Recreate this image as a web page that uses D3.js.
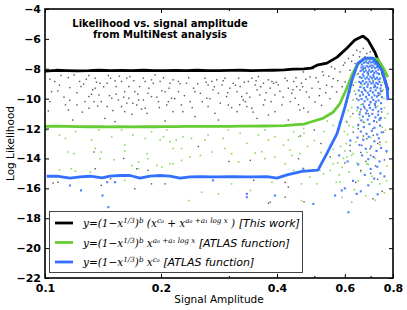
<!DOCTYPE html>
<html>
<head>
<meta charset="utf-8">
<script src="https://cdn.jsdelivr.net/npm/d3@7/dist/d3.min.js"></script>
<style>
  body { margin: 0; background: #fff; }
  svg { display: block; }
</style>
</head>
<body>
<script>
// x ticks and labels (log axis)
var xMajor = [0.1, 0.2, 0.4, 0.6, 0.8];
var xMinor = [0.3, 0.5, 0.7];
var yTicks = [-22, -20, -18, -16, -14, -12, -10, -8, -6, -4];

// profile likelihood lines
var blackX = [0.100,0.107,0.114,0.121,0.130,0.138,0.148,0.158,0.168,0.180,0.192,0.204,0.218,0.233,0.248,0.265,0.283,0.302,0.322,0.344,0.367,0.391,0.418,0.440,0.470,0.490,0.508,0.539,0.573,0.607,0.637,0.669,0.689,0.718,0.749,0.776];
var blackY = [-8.16,-8.10,-8.12,-8.14,-8.13,-8.10,-8.12,-8.11,-8.13,-8.10,-8.12,-8.13,-8.11,-8.12,-8.10,-8.12,-8.13,-8.11,-8.10,-8.12,-8.11,-8.10,-8.08,-8.03,-8.00,-7.96,-7.76,-7.62,-7.22,-6.62,-6.08,-5.81,-6.08,-6.89,-8.09,-9.44];

var greenX = [0.100,0.107,0.114,0.121,0.130,0.138,0.148,0.158,0.168,0.180,0.192,0.204,0.218,0.233,0.248,0.265,0.283,0.302,0.322,0.344,0.367,0.391,0.418,0.440,0.470,0.487,0.526,0.559,0.583,0.607,0.626,0.645,0.669,0.697,0.731,0.753,0.776];
var greenY = [-11.85,-11.84,-11.86,-11.87,-11.88,-11.88,-11.89,-11.88,-11.89,-11.88,-11.88,-11.87,-11.87,-11.86,-11.86,-11.85,-11.86,-11.85,-11.84,-11.84,-11.83,-11.82,-11.80,-11.76,-11.70,-11.58,-11.32,-10.91,-10.31,-9.30,-8.43,-7.76,-7.36,-7.29,-7.36,-7.89,-8.56];

var blueX = [0.101,0.1074,0.1161,0.1233,0.1309,0.1406,0.1475,0.1565,0.1662,0.1764,0.1873,0.1988,0.2110,0.2240,0.2378,0.2525,0.2729,0.3075,0.3404,0.3767,0.4000,0.4246,0.4644,0.5110,0.539,0.573,0.600,0.626,0.649,0.677,0.710,0.749,0.772,0.776];
var blueY = [-15.19,-15.19,-15.32,-15.23,-15.19,-15.30,-15.19,-15.14,-15.14,-15.32,-15.19,-15.14,-15.19,-15.32,-15.23,-15.21,-15.23,-15.21,-15.23,-15.21,-15.32,-15.10,-14.87,-14.78,-13.66,-12.32,-10.58,-8.77,-7.62,-7.29,-7.29,-8.09,-9.23,-10.1];

// MultiNest samples, "x,y" pairs
var blackPts = "0.110,-8.45 0.115,-8.59 0.106,-8.85 0.108,-9.48 0.104,-9.53 0.103,-10.20 0.102,-10.82 0.116,-9.26 0.123,-8.85 0.126,-9.03 0.130,-8.45 0.135,-8.63 0.136,-8.90 0.139,-8.97 0.135,-9.30 0.132,-9.70 0.130,-9.86 0.127,-10.20 0.124,-9.19 0.116,-10.11 0.121,-10.42 0.118,-11.43 0.130,-10.64 0.146,-8.45 0.152,-8.81 0.153,-9.19 0.158,-8.85 0.163,-8.63 0.165,-9.19 0.161,-9.53 0.153,-9.70 0.155,-10.09 0.149,-9.97 0.145,-10.53 0.140,-10.20 0.138,-9.75 0.143,-11.32 0.152,-11.54 0.158,-10.53 0.168,-11.05 0.165,-9.97 0.171,-9.53 0.176,-9.19 0.182,-8.85 0.180,-8.63 0.189,-8.74 0.191,-8.97 0.193,-8.41 0.199,-8.85 0.201,-9.48 0.205,-9.53 0.211,-8.97 0.215,-8.74 0.213,-9.97 0.209,-10.20 0.207,-10.42 0.197,-10.20 0.189,-9.86 0.185,-9.64 0.180,-10.09 0.182,-10.64 0.184,-10.98 0.175,-10.09 0.173,-10.42 0.215,-10.87 0.205,-11.49 0.148,-8.63 0.145,-8.97 0.166,-8.52 0.169,-10.31 0.161,-10.87 0.134,-10.20 0.113,-10.42 0.115,-10.76 " +
  "0.222,-8.85 0.233,-8.97 0.243,-9.30 0.245,-9.53 0.253,-9.64 0.260,-8.63 0.265,-9.08 0.271,-8.85 0.273,-9.41 0.279,-8.74 0.282,-9.64 0.288,-9.08 0.293,-8.63 0.296,-9.86 0.302,-9.30 0.308,-8.97 0.315,-9.53 0.318,-8.63 0.321,-9.19 0.324,-9.86 0.327,-10.09 0.331,-10.20 0.334,-9.64 0.337,-8.85 0.344,-8.63 0.351,-9.08 0.355,-9.41 0.358,-8.52 0.361,-9.75 0.369,-8.97 0.372,-10.09 0.380,-8.74 0.384,-9.30 0.388,-8.85 0.392,-8.97 0.395,-9.75 0.403,-9.08 0.412,-10.42 0.420,-8.63 0.428,-9.30 0.437,-9.64 0.442,-8.85 0.446,-9.97 0.450,-9.19 0.459,-9.41 0.463,-8.97 0.469,-10.64 0.459,-10.76 0.428,-11.43 0.395,-10.87 0.380,-11.09 0.355,-11.32 0.344,-10.64 0.315,-10.87 0.282,-11.43 0.276,-10.98 0.265,-10.53 0.245,-11.20 0.226,-10.42 0.238,-10.20 0.222,-9.53 0.369,-10.42 0.334,-10.53 0.299,-10.42 0.263,-9.97 0.228,-10.87 " +
  "0.103,-8.70 0.109,-9.10 0.112,-9.90 0.119,-8.40 0.121,-9.60 0.125,-10.90 0.128,-8.70 0.133,-9.40 0.137,-10.50 0.142,-9.20 0.147,-9.80 0.150,-10.80 0.156,-8.50 0.160,-9.90 0.163,-10.30 0.170,-8.80 0.174,-9.70 0.178,-10.70 0.186,-9.30 0.195,-9.90 0.198,-10.60 0.203,-8.60 0.210,-9.30 0.217,-10.00 0.224,-9.00 0.230,-9.80 0.236,-8.60 0.241,-10.60 0.249,-9.00 0.256,-10.20 0.262,-8.90 0.268,-10.00 0.275,-9.20 0.285,-10.30 0.290,-8.80 0.298,-9.60 0.305,-10.60 0.312,-9.10 0.320,-10.40 0.329,-8.90 0.340,-9.90 0.347,-10.90 0.353,-8.80 0.363,-9.20 0.375,-9.60 0.386,-10.20 0.398,-8.90 0.407,-9.50 0.415,-9.90 0.425,-8.80 0.433,-10.20 0.440,-9.40 0.448,-8.60 0.455,-10.40 0.466,-9.20 0.475,-8.70 0.485,-9.90 0.493,-9.30 0.505,-8.60 0.515,-9.80 0.525,-8.20 0.535,-9.60 0.545,-8.50 0.556,-9.20 0.565,-8.00 0.575,-8.80 0.590,-9.20 0.600,-7.60 0.625,-7.50 0.655,-7.20 " +
  "0.468,-8.21 0.487,-8.55 0.497,-7.99 0.512,-8.88 0.528,-8.43 0.538,-9.10 0.554,-7.87 0.560,-8.66 0.571,-9.55 0.583,-8.21 0.595,-7.76 0.601,-8.88 0.613,-7.31 0.619,-8.10 0.631,-7.09 0.638,-7.65 0.644,-6.76 0.650,-8.32 0.657,-6.87 0.664,-7.43 0.670,-6.64 0.677,-7.20 0.684,-6.98 0.691,-7.65 0.698,-6.87 0.705,-7.76 0.477,-9.55 0.502,-10.22 0.522,-10.45 0.549,-10.00 0.577,-10.56 0.607,-10.22 0.595,-10.89 0.482,-10.89 0.517,-9.33 0.544,-11.12 0.631,-9.10 0.619,-9.55 0.644,-10.00 0.657,-10.89 0.670,-11.57 0.650,-12.01 0.684,-12.68 0.664,-13.13 0.698,-13.35 0.711,-12.46 0.726,-11.57 0.740,-12.91 0.631,-12.24 0.619,-13.13 0.677,-10.67 0.719,-10.45 0.733,-9.78 0.748,-10.89 0.756,-12.24 0.607,-11.57 " +
  "0.660,-9.00 0.680,-9.50 0.700,-10.20 0.720,-9.20 0.690,-11.00 0.710,-12.00 0.670,-12.50 0.730,-13.00 0.700,-13.80 0.680,-14.20 0.720,-14.50 0.660,-13.60 0.740,-11.30 0.650,-11.80 0.630,-11.00 0.690,-8.30 0.710,-8.80 0.670,-8.00 0.750,-9.50 0.640,-9.70 0.700,-15.00 0.730,-15.40 0.660,-14.80 0.760,-14.10 0.620,-13.50 0.600,-14.30 0.640,-15.60 0.750,-16.20 0.710,-16.70 0.550,-13.90 0.420,-15.60 0.380,-17.00 0.160,-14.00 0.250,-13.20 0.300,-14.20 0.460,-12.50 0.140,-15.80 0.470,-16.90 0.500,-12.10 0.520,-13.00 " +
  "0.105,-15.65 0.108,-15.59 0.134,-13.57 0.135,-14.69 0.148,-15.36 0.173,-14.69 0.185,-14.80 0.189,-15.70 0.205,-15.70 0.171,-16.03 0.341,-14.13 0.348,-15.47 0.384,-16.93 0.420,-16.59 0.455,-14.02 0.428,-15.92";

var greenPts = "0.101,-12.10 0.109,-12.43 0.113,-12.66 0.120,-12.21 0.132,-12.77 0.138,-12.10 0.149,-12.55 0.158,-12.10 0.161,-13.11 0.169,-12.43 0.182,-12.66 0.189,-12.21 0.199,-12.77 0.203,-12.55 0.207,-12.10 0.211,-12.88 0.215,-13.33 0.135,-13.33 " +
  "0.115,-13.57 0.119,-13.68 0.139,-14.02 0.140,-13.57 0.151,-14.09 0.161,-13.50 0.168,-14.47 0.175,-14.24 0.184,-13.68 0.185,-14.02 0.195,-14.47 0.201,-14.58 0.211,-14.35 0.215,-14.35 0.109,-14.76 0.117,-14.69 0.131,-14.91 0.120,-14.85 0.161,-15.47 0.175,-14.69 " +
  "0.219,-12.77 0.228,-12.55 0.240,-12.66 0.260,-12.77 0.265,-12.43 0.290,-12.66 0.299,-12.10 0.321,-12.32 0.334,-12.99 0.358,-12.43 0.372,-12.10 0.380,-12.77 0.395,-12.55 0.416,-13.11 0.428,-12.77 0.442,-12.21 0.455,-12.55 0.469,-11.99 0.432,-13.44 0.365,-13.55 0.293,-13.33 0.226,-13.33 " +
  "0.226,-14.13 0.238,-13.91 0.253,-13.80 0.271,-13.57 0.305,-13.68 0.318,-14.24 0.351,-13.64 0.372,-14.02 0.395,-13.91 0.420,-14.35 0.437,-13.80 0.459,-13.68 0.236,-16.82 0.255,-16.26 0.282,-16.37 0.305,-15.70 0.341,-16.14 0.388,-15.59 0.442,-14.80 0.463,-16.82 " +
  "0.487,-15.25 0.507,-15.70 0.528,-15.03 0.560,-14.35 0.583,-15.59 0.607,-13.91 0.631,-13.68 0.684,-14.35 0.705,-15.59 0.625,-16.93 0.463,-15.70 0.517,-14.80 " +
  "0.470,-12.30 0.500,-12.80 0.530,-12.20 0.550,-13.10 0.570,-12.40 0.520,-13.60 0.480,-13.20 0.580,-11.60 0.560,-11.80 0.540,-11.50 " +
  "0.640,-7.90 0.650,-7.60 0.660,-7.50 0.735,-7.60 0.742,-7.95 0.748,-8.40 0.752,-8.90 0.755,-9.40 0.758,-10.00 0.760,-10.60 0.762,-11.30 0.765,-12.10 0.768,-12.90 0.770,-13.60 0.772,-14.50 0.645,-8.40 0.640,-8.90 0.635,-9.50 0.630,-10.10 0.625,-10.60 0.620,-11.20 0.615,-11.80 0.610,-12.40 0.605,-13.00 0.600,-13.50 0.595,-14.00 0.590,-14.60 0.580,-15.10 0.570,-15.60 0.630,-11.90 0.640,-12.90 0.625,-13.80 0.645,-14.30 0.615,-14.90 0.650,-15.50 0.635,-16.10 0.660,-10.40 0.675,-11.60 0.700,-12.60 0.685,-13.60 0.720,-14.00 0.705,-15.20 0.740,-15.70 0.760,-16.30 0.680,-16.50 0.740,-13.10 0.750,-11.90 0.665,-9.10 0.710,-9.60 0.730,-10.50 0.690,-8.20 0.720,-8.70 0.655,-11.30 0.645,-10.80 0.598,-12.20 0.585,-13.20 0.612,-10.80 0.605,-11.50 0.575,-14.30 0.560,-13.40 0.565,-12.60 0.550,-14.80 0.590,-16.60 0.720,-16.80 0.770,-15.50 0.775,-11.00 0.660,-14.90 0.690,-14.40";

var bluePts = "0.116,-15.81 0.124,-16.14 0.141,-16.48 0.146,-17.26 0.152,-15.59 0.145,-15.59 0.273,-15.47 0.334,-16.37 0.334,-16.59 0.395,-16.48 0.276,-17.90 0.497,-17.04 0.566,-16.48 0.589,-16.14 0.613,-17.60 0.644,-16.37 0.468,-14.69 " +
  "0.668,-7.45 0.675,-7.35 0.683,-7.40 0.690,-7.32 0.697,-7.38 0.705,-7.33 0.712,-7.42 0.720,-7.50 0.672,-7.60 0.680,-7.55 0.688,-7.62 0.695,-7.52 0.702,-7.58 0.709,-7.55 0.716,-7.66 0.724,-7.70 0.664,-7.72 " +
  "0.662,-7.92 0.670,-7.85 0.677,-7.95 0.684,-7.82 0.691,-7.90 0.698,-7.80 0.705,-7.93 0.712,-7.84 0.719,-7.96 0.727,-7.88 0.733,-8.05 0.659,-8.15 0.666,-8.08 0.673,-8.20 0.680,-8.12 0.687,-8.25 0.694,-8.10 0.701,-8.22 0.708,-8.14 0.715,-8.28 0.722,-8.18 0.729,-8.30 0.736,-8.35 0.668,-8.38 0.690,-8.40 0.711,-8.42 " +
  "0.656,-8.55 0.663,-8.62 0.671,-8.50 0.678,-8.66 0.685,-8.58 0.692,-8.70 0.699,-8.54 0.706,-8.64 0.713,-8.56 0.720,-8.68 0.727,-8.60 0.734,-8.72 0.741,-8.65 0.654,-8.88 0.661,-8.95 0.668,-8.82 0.675,-9.00 0.682,-8.90 0.689,-9.05 0.696,-8.86 0.703,-8.98 0.710,-8.92 0.717,-9.08 0.724,-8.94 0.731,-9.02 0.738,-8.88 0.745,-9.10 0.658,-9.22 0.672,-9.28 0.686,-9.20 0.700,-9.30 0.714,-9.24 0.728,-9.26 0.742,-9.32 " +
  "0.652,-9.45 0.664,-9.55 0.676,-9.42 0.688,-9.60 0.699,-9.48 0.710,-9.58 0.721,-9.44 0.733,-9.62 0.744,-9.50 0.657,-9.80 0.669,-9.72 0.681,-9.88 0.693,-9.75 0.705,-9.92 0.716,-9.78 0.727,-9.85 0.739,-9.70 0.749,-9.90 0.651,-10.10 0.663,-10.02 0.675,-10.18 0.687,-10.05 0.699,-10.25 0.711,-10.08 0.722,-10.20 0.734,-10.12 0.745,-10.30 0.668,-10.38 0.694,-10.42 0.718,-10.35 " +
  "0.648,-10.60 0.660,-10.72 0.673,-10.55 0.685,-10.80 0.697,-10.62 0.709,-10.75 0.721,-10.58 0.733,-10.85 0.746,-10.68 0.655,-11.05 0.668,-11.20 0.681,-10.98 0.694,-11.15 0.707,-11.02 0.720,-11.25 0.732,-11.08 0.744,-11.30 0.662,-11.45 0.688,-11.40 0.714,-11.50 0.738,-11.42 " +
  "0.650,-11.75 0.672,-11.90 0.695,-11.70 0.716,-11.95 0.740,-11.80 0.660,-12.20 0.683,-12.35 0.705,-12.15 0.728,-12.40 0.748,-12.25 0.647,-12.60 0.670,-12.75 0.692,-12.55 0.716,-12.85 0.735,-12.65 " +
  "0.655,-13.10 0.680,-13.35 0.702,-13.20 0.725,-13.50 0.745,-13.30 0.665,-13.80 0.690,-14.05 0.712,-13.90 0.738,-14.20 0.650,-14.40 0.700,-14.70 0.728,-14.55 0.676,-15.10 0.715,-15.35 0.742,-15.00 0.690,-15.80 0.660,-16.20 0.730,-16.40 " +
  "0.620,-12.80 0.610,-14.20 0.630,-15.50 0.580,-13.80 0.600,-16.00 0.760,-15.20 0.770,-13.50";

function parsePts(s){
    return s.trim().split(/\s+/).map(function(p){
        var v = p.split(",");
        return [+v[0], +v[1]];
    });
}

drawChart();

function drawChart(){

    //frame of the plot area
    var width = 407,
        height = 310,
        pL = 45, pR = 393, pT = 9, pB = 278;

    var svg = d3.select("body")
        .append("svg")
        .attr("width", width)
        .attr("height", height);

    var x = d3.scaleLog().domain([0.1, 0.8]).range([pL, pR]);
    var y = d3.scaleLinear().domain([-22, -4]).range([pB, pT]);

    svg.append("clipPath").attr("id", "clip")
        .append("rect").attr("x", pL).attr("y", pT)
        .attr("width", pR - pL).attr("height", pB - pT);

    var dots = svg.append("g").attr("clip-path", "url(#clip)");

    //scatter samples, black under green under blue
    [[blackPts, "#2a2a2a", 0.8, 1.4], [greenPts, "#78d84a", 0.9, 1.6], [bluePts, "#3f7bff", 0.95, 2.1]].forEach(function(s){
        var sz = s[3];
        dots.selectAll(null)
            .data(parsePts(s[0]))
            .enter()
            .append("rect")
            .attr("x", function(d){ return x(d[0]) - sz / 2; })
            .attr("y", function(d){ return y(d[1]) - sz / 2; })
            .attr("width", sz)
            .attr("height", sz)
            .attr("fill", s[1])
            .attr("opacity", s[2]);
    });

    var line = d3.line()
        .x(function(d){ return x(d[0]); })
        .y(function(d){ return y(d[1]); });

    var series = [
        {xs: blackX, ys: blackY, color: "#000000"},
        {xs: greenX, ys: greenY, color: "#66cc33"},
        {xs: blueX, ys: blueY, color: "#3370ff"}
    ];

    series.forEach(function(s){
        dots.append("path")
            .datum(d3.zip(s.xs, s.ys))
            .attr("fill", "none")
            .attr("stroke", s.color)
            .attr("stroke-width", 2.8)
            .attr("stroke-linejoin", "round")
            .attr("d", line);
    });

    //ticks pointing inwards on all four sides
    var xAxisB = d3.axisBottom(x).tickValues(xMajor).tickSizeInner(-4).tickSizeOuter(0)
        .tickFormat(d3.format(".1f")).tickPadding(6);
    var xAxisT = d3.axisTop(x).tickValues(xMajor).tickSizeInner(-4).tickSizeOuter(0).tickFormat("");
    var xMinB = d3.axisBottom(x).tickValues(xMinor).tickSizeInner(-2).tickSizeOuter(0).tickFormat("");
    var xMinT = d3.axisTop(x).tickValues(xMinor).tickSizeInner(-2).tickSizeOuter(0).tickFormat("");
    var yAxisL = d3.axisLeft(y).tickValues(yTicks).tickSizeInner(-4).tickSizeOuter(0)
        .tickFormat(function(d){ return d < 0 ? "\u2212" + Math.abs(d) : d; }).tickPadding(4);
    var yAxisR = d3.axisRight(y).tickValues(yTicks).tickSizeInner(-4).tickSizeOuter(0).tickFormat("");

    function addAxis(ax, tx, ty){
        var g = svg.append("g").attr("transform", "translate(" + tx + "," + ty + ")").call(ax);
        g.select(".domain").remove();
        g.selectAll(".tick line").attr("stroke", "#000").attr("stroke-width", 1);
        g.selectAll("text")
            .attr("font-family", "DejaVu Sans")
            .attr("font-weight", "bold")
            .attr("font-size", 11)
            .attr("fill", "#000");
        return g;
    }
    addAxis(xAxisB, 0, pB);
    addAxis(xAxisT, 0, pT);
    addAxis(xMinB, 0, pB);
    addAxis(xMinT, 0, pT);
    addAxis(yAxisL, pL, 0);
    addAxis(yAxisR, pR, 0);

    svg.append("rect")
        .attr("x", pL).attr("y", pT)
        .attr("width", pR - pL).attr("height", pB - pT)
        .attr("fill", "none")
        .attr("stroke", "#000")
        .attr("stroke-width", 1.6);

    //title
    var title = svg.append("text")
        .attr("font-family", "DejaVu Sans")
        .attr("font-weight", "bold")
        .attr("font-size", 10)
        .attr("text-anchor", "middle");
    title.append("tspan").attr("x", 160).attr("y", 27).text("Likelihood vs. signal amplitude");
    title.append("tspan").attr("x", 160).attr("y", 38).text("from MultiNest analysis");

    //axis labels
    svg.append("text")
        .attr("x", (pL + pR) / 2).attr("y", 303)
        .attr("text-anchor", "middle")
        .attr("font-family", "DejaVu Sans")
        .attr("font-size", 10.5)
        .text("Signal Amplitude");

    svg.append("text")
        .attr("transform", "translate(14," + (pT + pB) / 2 + ") rotate(-90)")
        .attr("text-anchor", "middle")
        .attr("font-family", "DejaVu Sans")
        .attr("font-size", 10.5)
        .text("Log Likelihood");

    //legend
    var legend = svg.append("g");
    legend.append("rect")
        .attr("x", 49.5).attr("y", 211.5)
        .attr("width", 253).attr("height", 61)
        .attr("fill", "#fff")
        .attr("stroke", "#444")
        .attr("stroke-width", 1);

    var legendRows = [
        {color: "#000000", math: [["y=(1\u2212x",0],["1/3",1],[")",0],["b",1],[" (x",0],["c\u2080",1],[" + x",0],["a\u2080 +a\u2081 log x",1],[" )",0]], tag: " [This work]"},
        {color: "#66cc33", math: [["y=(1\u2212x",0],["1/3",1],[")",0],["b",1],[" x",0],["a\u2080 +a\u2081 log x",1]], tag: "  [ATLAS function]"},
        {color: "#3370ff", math: [["y=(1\u2212x",0],["1/3",1],[")",0],["b",1],[" x",0],["c\u2080",1]], tag: "  [ATLAS function]"}
    ];

    legendRows.forEach(function(r, i){
        var ly = 223 + i * 19.5;
        legend.append("line")
            .attr("x1", 55).attr("x2", 73)
            .attr("y1", ly).attr("y2", ly)
            .attr("stroke", r.color)
            .attr("stroke-width", 2.8);
        var t = legend.append("text")
            .attr("x", 83).attr("y", ly + 4)
            .attr("font-family", "DejaVu Serif")
            .attr("font-style", "italic")
            .attr("font-size", 10.5);
        var shift = 0;
        r.math.forEach(function(m){
            var target = m[1] ? -4 : 0;
            t.append("tspan")
                .attr("dy", target - shift)
                .attr("font-size", m[1] ? 7.2 : 10.5)
                .text(m[0]);
            shift = target;
        });
        t.append("tspan")
            .attr("dy", -shift)
            .attr("font-family", "DejaVu Sans")
            .attr("font-size", 11)
            .text(r.tag);
    });
}
</script>
</body>
</html>
